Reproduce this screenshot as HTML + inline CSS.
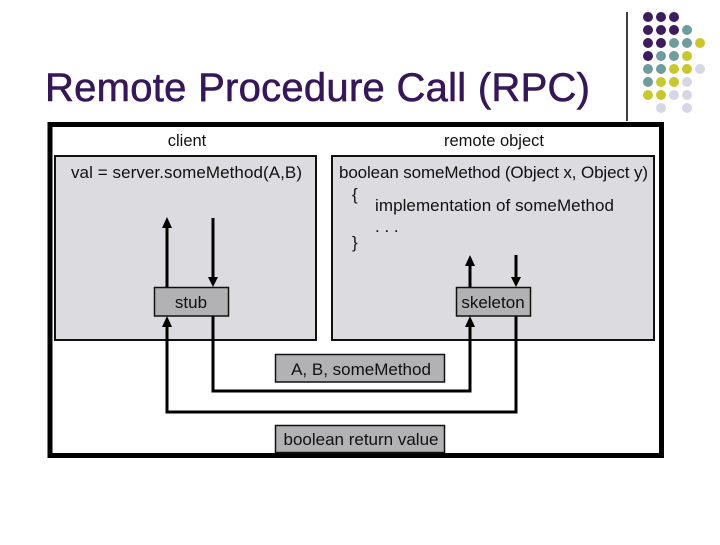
<!DOCTYPE html>
<html><head><style>
body{margin:0;width:720px;height:540px;background:#fff;overflow:hidden;font-family:"Liberation Sans",sans-serif}
</style></head><body>
<svg width="720" height="540" xmlns="http://www.w3.org/2000/svg" font-family="Liberation Sans, sans-serif">
<text x="45" y="101" font-size="40" fill="#36175a" stroke="#36175a" stroke-width="0.6" textLength="545">Remote Procedure Call (RPC)</text>
<line x1="627" y1="12" x2="627" y2="121" stroke="#000" stroke-width="1.5"/>
<g>
<circle cx="648" cy="17" r="5" fill="#3d1c5e"/><circle cx="661" cy="17" r="5" fill="#3d1c5e"/><circle cx="674" cy="17" r="5" fill="#3d1c5e"/>
<circle cx="648" cy="30" r="5" fill="#3d1c5e"/><circle cx="661" cy="30" r="5" fill="#3d1c5e"/><circle cx="674" cy="30" r="5" fill="#3d1c5e"/><circle cx="687" cy="30" r="5" fill="#6f9c9c"/>
<circle cx="648" cy="43" r="5" fill="#3d1c5e"/><circle cx="661" cy="43" r="5" fill="#3d1c5e"/><circle cx="674" cy="43" r="5" fill="#6f9c9c"/><circle cx="687" cy="43" r="5" fill="#6f9c9c"/><circle cx="700" cy="43" r="5" fill="#c9c82a"/>
<circle cx="648" cy="56" r="5" fill="#3d1c5e"/><circle cx="661" cy="56" r="5" fill="#6f9c9c"/><circle cx="674" cy="56" r="5" fill="#6f9c9c"/><circle cx="687" cy="56" r="5" fill="#c9c82a"/>
<circle cx="648" cy="69" r="5" fill="#6f9c9c"/><circle cx="661" cy="69" r="5" fill="#6f9c9c"/><circle cx="674" cy="69" r="5" fill="#c9c82a"/><circle cx="687" cy="69" r="5" fill="#c9c82a"/><circle cx="700" cy="69" r="5" fill="#d6d6e6"/>
<circle cx="648" cy="82" r="5" fill="#6f9c9c"/><circle cx="661" cy="82" r="5" fill="#c9c82a"/><circle cx="674" cy="82" r="5" fill="#c9c82a"/><circle cx="687" cy="82" r="5" fill="#d6d6e6"/>
<circle cx="648" cy="95" r="5" fill="#c9c82a"/><circle cx="661" cy="95" r="5" fill="#c9c82a"/><circle cx="674" cy="95" r="5" fill="#d6d6e6"/><circle cx="687" cy="95" r="5" fill="#d6d6e6"/>
<circle cx="661" cy="108" r="5" fill="#d6d6e6"/><circle cx="687" cy="108" r="5" fill="#d6d6e6"/>
</g>
<rect x="50" y="124.5" width="611.5" height="331" fill="#fff" stroke="#000" stroke-width="5"/>
<text x="187" y="146" font-size="16.5" text-anchor="middle" fill="#111">client</text>
<text x="494" y="146" font-size="16.5" text-anchor="middle" fill="#111">remote object</text>
<rect x="55" y="156" width="261" height="184" fill="#dcdbdf" stroke="#111" stroke-width="2"/>
<rect x="332" y="156" width="322" height="184" fill="#dcdbdf" stroke="#111" stroke-width="2"/>
<text x="71" y="178" font-size="17" fill="#111" textLength="231">val = server.someMethod(A,B)</text>
<text x="339" y="178" font-size="17" fill="#111" textLength="309">boolean someMethod (Object x, Object y)</text>
<text x="352" y="200" font-size="17" fill="#111">{</text>
<text x="375" y="211" font-size="17" fill="#111" textLength="239">implementation of someMethod</text>
<text x="375" y="232" font-size="17" fill="#111">. . .</text>
<text x="352" y="248" font-size="17" fill="#111">}</text>
<g stroke="#000" stroke-width="3" fill="none">
<line x1="167" y1="226" x2="167" y2="287"/>
<line x1="213" y1="218" x2="213" y2="280"/>
<polyline points="167,324 167,412 516,412 516,316"/>
<polyline points="213,316 213,391 470,391 470,324"/>
<line x1="470" y1="263" x2="470" y2="287"/>
<line x1="516" y1="255" x2="516" y2="280"/>
</g>
<g fill="#000">
<polygon points="162,228 172,228 167,217"/>
<polygon points="208,277 218,277 213,287"/>
<polygon points="162,327 172,327 167,316"/>
<polygon points="465,327 475,327 470,316"/>
<polygon points="465,266 475,266 470,255"/>
<polygon points="511,277 521,277 516,287"/>
</g>
<rect x="154.5" y="287.5" width="74" height="28.5" fill="#b2b1b3" stroke="#111" stroke-width="1.5"/>
<text x="191" y="308" font-size="17" text-anchor="middle" fill="#111">stub</text>
<rect x="456.5" y="287.5" width="74" height="28.5" fill="#b2b1b3" stroke="#111" stroke-width="1.5"/>
<text x="493" y="308" font-size="17" text-anchor="middle" fill="#111">skeleton</text>
<rect x="275.5" y="354.5" width="169" height="27.5" fill="#b2b1b3" stroke="#111" stroke-width="1.5"/>
<text x="361" y="375" font-size="17" text-anchor="middle" fill="#111">A, B, someMethod</text>
<rect x="275.5" y="425.5" width="169" height="27" fill="#b2b1b3" stroke="#111" stroke-width="1.5"/>
<text x="361" y="445" font-size="17" text-anchor="middle" fill="#111">boolean return value</text>
</svg>
</body></html>
